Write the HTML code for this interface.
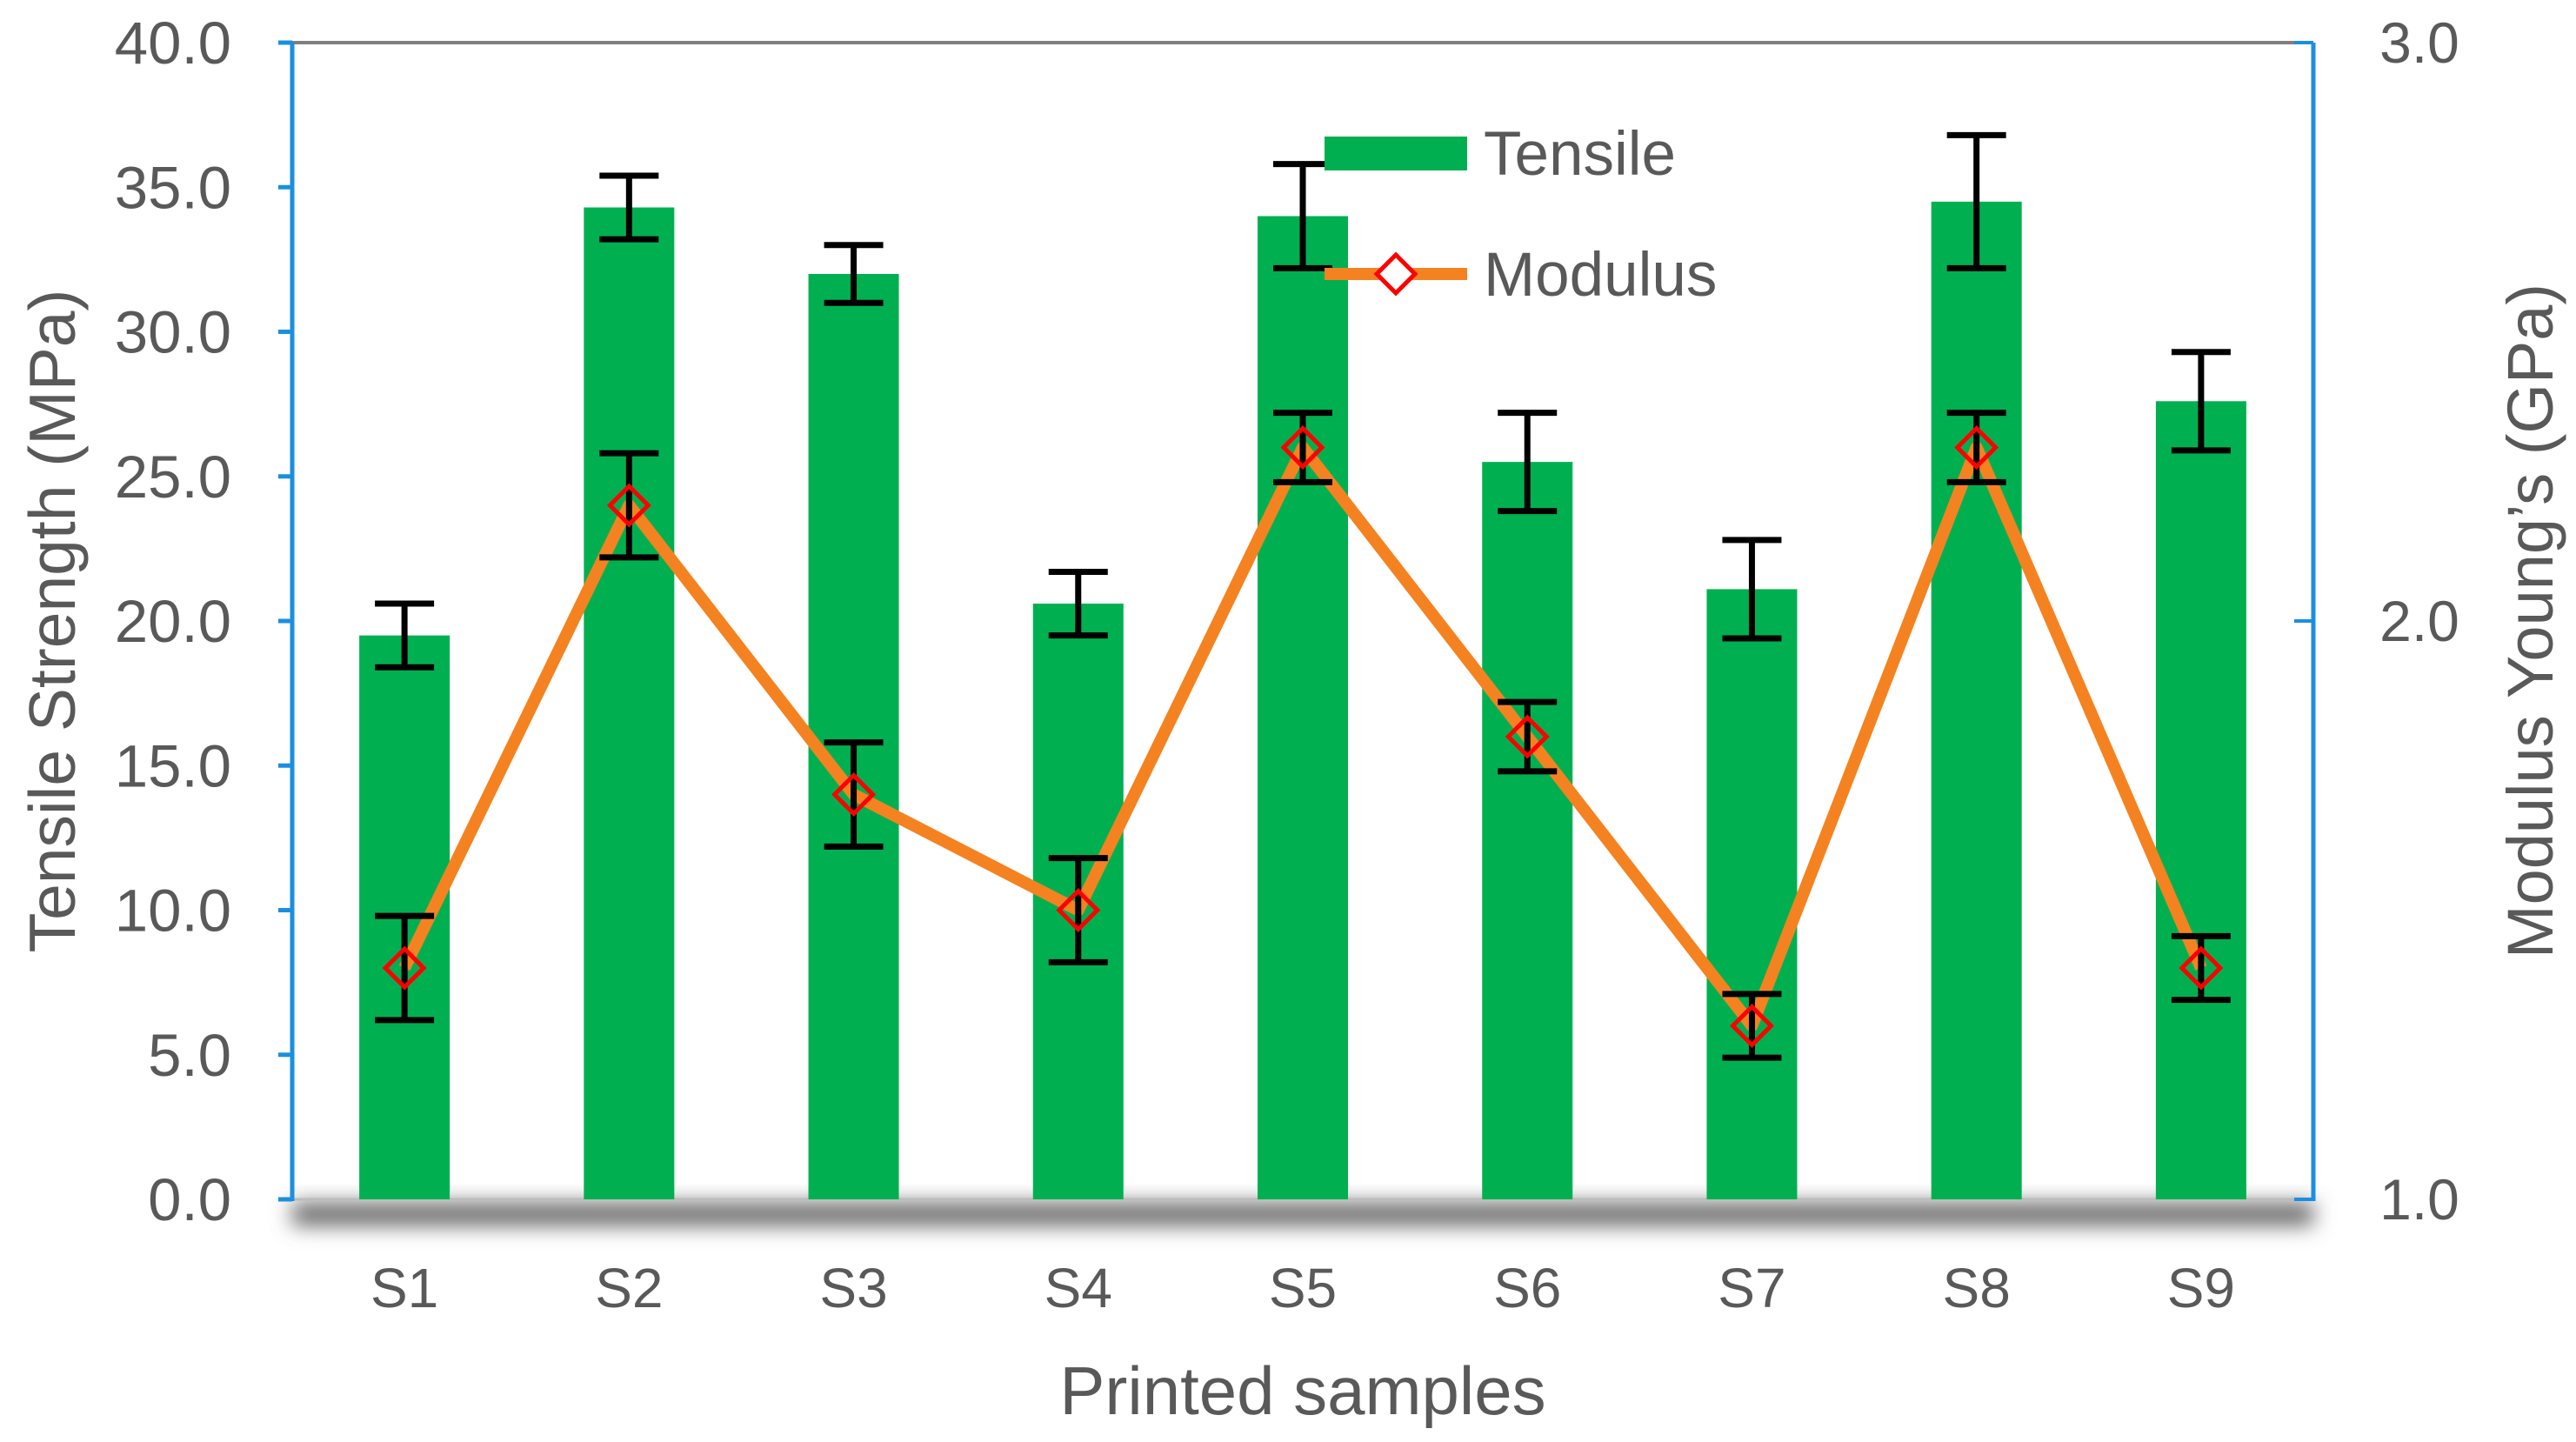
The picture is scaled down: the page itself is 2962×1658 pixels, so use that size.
<!DOCTYPE html>
<html><head><meta charset="utf-8"><style>
html,body{margin:0;padding:0;background:#fff;}
svg{display:block;font-family:"Liberation Sans",sans-serif;}
</style></head><body>
<svg id="chart" width="2962" height="1658" viewBox="0 0 2962 1658" xmlns="http://www.w3.org/2000/svg">
<defs>
<filter id="sh" x="-5%" y="-80%" width="110%" height="400%"><feGaussianBlur stdDeviation="12"/></filter>
</defs>
<g id="plot"></g>
</svg>
<script>
const categories=["S1","S2","S3","S4","S5","S6","S7","S8","S9"];
const tensile=[19.5,34.3,32.0,20.6,34.0,25.5,21.1,34.5,27.6];
const tensileErr=[1.1,1.1,1.0,1.1,1.8,1.7,1.7,2.3,1.7];
const modulus=[1.4,2.2,1.7,1.5,2.3,1.8,1.3,2.3,1.4];
const modulusErr=[0.09,0.09,0.09,0.09,0.06,0.06,0.055,0.06,0.055];
const leftTicks=["0.0","5.0","10.0","15.0","20.0","25.0","30.0","35.0","40.0"];
const rightTicks=["1.0","2.0","3.0"];

const NS="http://www.w3.org/2000/svg";
const g=document.getElementById('plot');
const L=336,R=2660,T=49,B=1379;
const yL=v=>B-(v/40)*(B-T);
const yR=v=>B-((v-1)/2)*(B-T);
const bw=(R-L)/categories.length;
const xC=i=>L+bw*(i+0.5);
function mk(tag,attrs,parent){const e=document.createElementNS(NS,tag);for(const k in attrs)e.setAttribute(k,attrs[k]);(parent||g).appendChild(e);return e;}

let e=mk('rect',{x:L,y:B+4,width:R-L,height:26,fill:'#666',filter:'url(#sh)'});

e=mk('line',{x1:L,y1:T,x2:R,y2:T,stroke:'#7f7f7f','stroke-width':4});

e=mk('line',{x1:L,y1:B,x2:R,y2:B,stroke:'#bdbdbd','stroke-width':3});


e=mk('line',{x1:L,y1:T,x2:L,y2:B+2,stroke:'#1a8fe0','stroke-width':5});

leftTicks.forEach((t,i)=>{const v=parseFloat(t);const y=yL(v);
 let k=mk('line',{x1:L-16,y1:y,x2:L,y2:y,stroke:'#1a8fe0','stroke-width':5});
 
 let tx=mk('text',{x:266,y:y+24,'text-anchor':'end','font-size':69,fill:'#595959'});tx.textContent=t;
 
});
e=mk('line',{x1:R,y1:T,x2:R,y2:B+2,stroke:'#1a8fe0','stroke-width':5});

rightTicks.forEach(t=>{const y=yR(parseFloat(t));
 let k=mk('line',{x1:R-22,y1:y,x2:R,y2:y,stroke:'#1a8fe0','stroke-width':4});
 
 let tx=mk('text',{x:2782,y:y+23,'text-anchor':'middle','font-size':66,fill:'#595959'});tx.textContent=t;
 
});

categories.forEach((c,i)=>{
 const x=xC(i),y=yL(tensile[i]);
 let b=mk('rect',{x:x-52,y:y,width:104,height:B-y,fill:'#00b050'});
 
 let lb=mk('text',{x:x,y:1503,'text-anchor':'middle','font-size':64,fill:'#595959'});lb.textContent=c;
 
});
function err(x,yt,yb,name){
 let gg=mk('g',{stroke:'#000','stroke-width':7});
 
 mk('line',{x1:x,y1:yt,x2:x,y2:yb},gg);
 mk('line',{x1:x-34,y1:yt,x2:x+34,y2:yt},gg);
 mk('line',{x1:x-34,y1:yb,x2:x+34,y2:yb},gg);
}
categories.forEach((c,i)=>err(xC(i),yL(tensile[i]+tensileErr[i]),yL(tensile[i]-tensileErr[i]),'tensile-error-bar'));

const pts=modulus.map((v,i)=>xC(i)+','+yR(v)).join(' ');
e=mk('polyline',{points:pts,fill:'none',stroke:'#f58220','stroke-width':14,'stroke-linejoin':'round'});

categories.forEach((c,i)=>err(xC(i),yR(modulus[i]+modulusErr[i]),yR(modulus[i]-modulusErr[i]),'modulus-error-bar'));
categories.forEach((c,i)=>{const x=xC(i),y=yR(modulus[i]);
 let d=mk('polygon',{points:`${x-22},${y} ${x},${y-22} ${x+22},${y} ${x},${y+22}`,fill:'none',stroke:'#ff0000','stroke-width':5});
 
});

let lg=mk('g',{});
e=mk('rect',{x:1523,y:157,width:164,height:39,fill:'#00b050'},lg);

e=mk('text',{x:1706,y:201,'font-size':71,fill:'#595959'},lg);e.textContent='Tensile';

e=mk('line',{x1:1523,y1:315,x2:1687,y2:315,stroke:'#f58220','stroke-width':14},lg);

e=mk('polygon',{points:'1583,315 1605,293 1627,315 1605,337',fill:'#fff',stroke:'#ff0000','stroke-width':5},lg);

e=mk('text',{x:1706,y:340,'font-size':71,fill:'#595959'},lg);e.textContent='Modulus';


e=mk('text',{x:1498,y:1626,'text-anchor':'middle','font-size':78,fill:'#595959'});e.textContent='Printed samples';

e=mk('text',{x:0,y:0,'text-anchor':'middle','font-size':75,fill:'#595959',transform:'translate(86,714) rotate(-90)'});e.textContent='Tensile Strength (MPa)';

e=mk('text',{x:0,y:0,'text-anchor':'middle','font-size':74,fill:'#595959',transform:'translate(2935,714) rotate(-90)'});e.textContent='Modulus Young’s (GPa)';

</script>
</body></html>
